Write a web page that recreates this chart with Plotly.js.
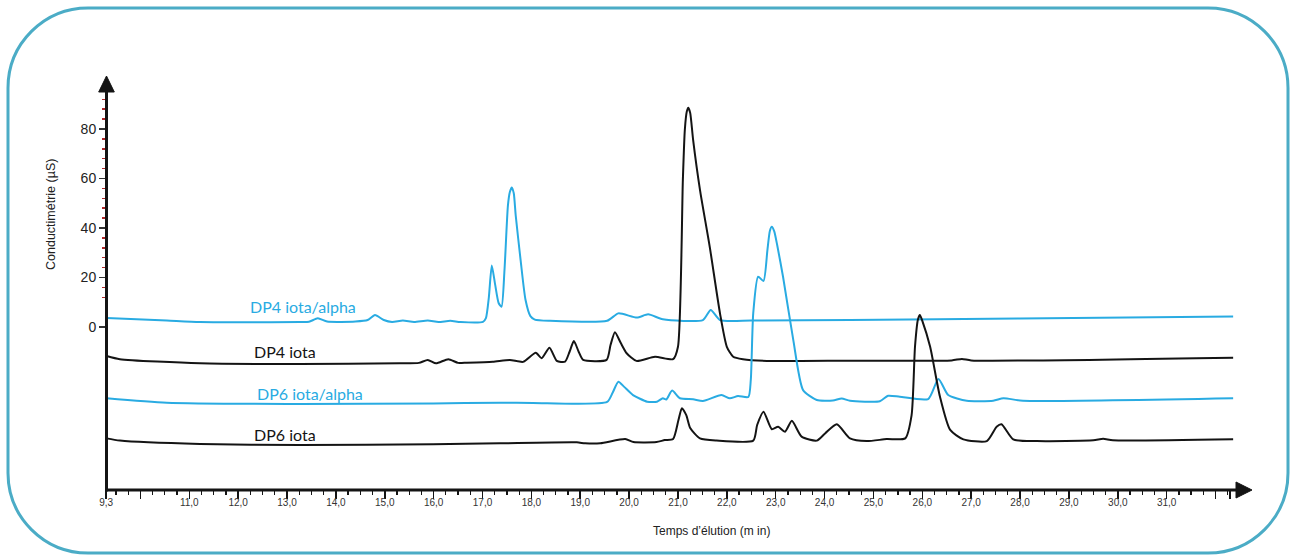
<!DOCTYPE html>
<html><head><meta charset="utf-8">
<script src="https://cdn.plot.ly/plotly-3.0.1.min.js"></script>
<style>html,body{margin:0;padding:0;background:#fff}#chart{width:1293px;height:556px}</style>
</head><body><div id="chart"></div>
<script>
// ---- Data (elution time in min, conductivity in µS, traces stacked as drawn) ----
const dp4iaT = [9.31,10.54,11.22,13.27,13.45,13.63,13.82,14.4,14.65,14.80,14.98,15.15,15.37,15.6,15.88,16.1,16.34,16.55,17.01,17.07,17.13,17.19,17.26,17.33,17.39,17.45,17.52,17.56,17.60,17.64,17.68,17.78,17.88,17.98,18.07,18.38,19.55,19.78,20.16,20.39,20.69,21.51,21.67,21.86,22.5,24.52,28.0,32.36];
const dp4iaV = [3.6,2.6,2.0,2.0,2.1,3.5,2.2,2.2,2.8,4.85,2.8,2.0,2.6,2.0,2.6,2.0,2.5,2.0,2.1,3.6,12,24.8,17,9.7,8.2,23,49,54.5,56.4,54,45,27,11,4.4,3.0,2.5,2.5,5.5,3.8,5.1,3.1,2.8,6.9,2.8,2.6,2.8,3.4,4.2];

const dp4iT = [9.31,9.58,11.22,13.27,15.31,15.70,15.88,16.05,16.30,16.5,16.68,17.21,17.56,17.83,18.09,18.21,18.37,18.52,18.69,18.78,18.87,18.97,19.06,19.54,19.62,19.71,19.83,19.95,20.15,20.53,20.90,21.00,21.10,21.14,21.18,21.21,21.25,21.31,21.45,21.65,21.86,22.0,22.13,22.33,22.82,24.52,26.6,26.81,27.0,32.36];
const dp4iV = [-11.7,-13.0,-14.7,-15.0,-14.7,-14.5,-13.3,-14.7,-13.0,-14.5,-14.4,-14.0,-13.3,-14.1,-10.4,-12.6,-8.4,-13.7,-14.0,-10.1,-5.7,-10.1,-13.3,-13.3,-7.3,-2.1,-6.5,-10.6,-13.7,-12.0,-13.0,-8.0,59.4,79.6,87.0,88.6,86.5,75.6,55.4,32.4,5.5,-8.0,-12.0,-13.0,-13.7,-13.6,-13.5,-12.9,-13.5,-12.4];

const dp6iaT = [9.31,10.54,13.27,15.99,17.36,18.03,19.55,19.66,19.78,19.9,20.08,20.37,20.57,20.69,20.76,20.88,21.04,21.31,21.51,21.89,22.06,22.23,22.44,22.49,22.54,22.64,22.75,22.83,22.88,22.92,22.97,23.03,23.15,23.36,23.56,23.84,24.17,24.35,24.52,25.13,25.30,25.54,26.12,26.33,26.53,26.91,27.45,27.66,28.06,32.36];
const dp6iaV = [-28.8,-30.6,-31.1,-30.9,-30.6,-30.7,-30.3,-26.7,-22.1,-24.2,-27.5,-30.2,-30.2,-28.8,-29.3,-25.7,-28.8,-29.2,-29.9,-27.5,-28.8,-27.9,-28.3,-21.4,5.5,20.3,18.6,31.1,38.8,40.5,38.6,33.1,20.3,-5.3,-25.5,-29.5,-29.7,-28.9,-29.8,-30.0,-27.8,-28.2,-29.1,-21.0,-27.5,-29.8,-29.8,-28.8,-29.8,-28.8];

const dp6iT = [9.31,9.58,11.22,13.27,15.99,17.36,18.93,19.1,19.41,19.92,20.09,20.56,20.73,20.90,21.01,21.08,21.17,21.25,21.45,21.79,22.54,22.62,22.75,22.92,23.05,23.19,23.33,23.53,23.84,24.01,24.25,24.52,24.86,25.27,25.65,25.78,25.85,25.91,25.95,26.00,26.16,26.36,26.57,26.84,27.32,27.52,27.62,27.86,28.34,29.5,29.70,29.9,32.36];
const dp6iV = [-45.0,-45.9,-47.3,-47.7,-47.4,-47.0,-46.6,-47.0,-47.0,-45.3,-46.5,-46.5,-45.7,-45.3,-37.6,-32.8,-35.6,-40.8,-45.0,-45.9,-45.9,-39.6,-34.2,-41.3,-40.3,-42.3,-37.9,-44.3,-45.9,-43.0,-39.3,-45.0,-46.1,-45.3,-45.0,-35.7,-8.0,3.0,4.85,2.5,-8.0,-28.1,-41.6,-45.4,-46.1,-40.3,-39.3,-45.4,-46.1,-45.8,-45.2,-45.8,-45.4];

const seriesNames = ["DP4 iota/alpha","DP4 iota","DP6 iota/alpha","DP6 iota"];
const labelT = [13.33, 12.96, 13.47, 12.96];
const labelV = [8.1, -10.1, -26.7, -43.6];

const xTickVals = [9.3,10,11,12,13,14,15,16,17,18,19,20,21,22,23,24,25,26,27,28,29,30,31,32,32.3];
const xTickText = ["9,3","","11,0","12,0","13,0","14,0","15,0","16,0","17,0","18,0","19,0","20,0","21,0","22,0","23,0","24,0","25,0","26,0","27,0","28,0","29,0","30,0","31,0","",""];
const yTickVals = [0,20,40,60,80];
const yTickText = ["0","20","40","60","80"];

// ---- Styling / geometry ----
const BLUE = "#29abe2", BLACK = "#141414", FRAME = "#4bacc6";
const W = 1293, H = 556, L = 106, R = 41, T = 76, B = 66;
const pw = W - L - R, ph = H - T - B;
const px = x => (x - L) / pw;
const py = y => (H - B - y) / ph;

const xMinor = [];
for (let v = 9.5; v <= 32.26; v += 0.25) { if (Math.abs(v - Math.round(v)) > 0.01) xMinor.push(+v.toFixed(2)); }
const yMinor = [];
for (let v = 12; v <= 96; v += 4) { if (v % 20 !== 0) yMinor.push(v); }

const colors = [BLUE, BLACK, BLUE, BLACK];
const Ts = [dp4iaT, dp4iT, dp6iaT, dp6iT];
const Vs = [dp4iaV, dp4iV, dp6iaV, dp6iV];
const traces = Ts.map((t, i) => ({
  x: t, y: Vs[i], type: "scatter", mode: "lines", name: seriesNames[i],
  line: {color: colors[i], width: 2, shape: "spline", smoothing: 0.6},
  hoverinfo: "skip"
}));

function roundRect(x0, y0, x1, y1, r) {
  const k = 0.5523 * r;
  const P = (x, y) => px(x) + "," + py(y);
  return "M" + P(x0 + r, y0) + " L" + P(x1 - r, y0) +
    " C" + P(x1 - r + k, y0) + " " + P(x1, y0 + r - k) + " " + P(x1, y0 + r) +
    " L" + P(x1, y1 - r) +
    " C" + P(x1, y1 - r + k) + " " + P(x1 - r + k, y1) + " " + P(x1 - r, y1) +
    " L" + P(x0 + r, y1) +
    " C" + P(x0 + r - k, y1) + " " + P(x0, y1 - r + k) + " " + P(x0, y1 - r) +
    " L" + P(x0, y0 + r) +
    " C" + P(x0, y0 + r - k) + " " + P(x0 + r - k, y0) + " " + P(x0 + r, y0) + " Z";
}

const shapes = [
  {type: "path", xref: "paper", yref: "paper", path: roundRect(8, 8, 1288, 553, 80), line: {color: FRAME, width: 3}},
  {type: "line", xref: "paper", yref: "paper", x0: px(105), x1: px(1240), y0: py(490), y1: py(490), line: {color: BLACK, width: 3}},
  {type: "path", xref: "paper", yref: "paper", path: "M" + px(1236) + "," + py(482) + " L" + px(1252) + "," + py(490) + " L" + px(1236) + "," + py(498) + " Z", fillcolor: BLACK, line: {color: BLACK, width: 1}},
  {type: "line", xref: "paper", yref: "paper", x0: px(106.5), x1: px(106.5), y0: py(491.5), y1: py(88), line: {color: BLACK, width: 3}},
  {type: "path", xref: "paper", yref: "paper", path: "M" + px(98.7) + "," + py(92) + " L" + px(106.5) + "," + py(76) + " L" + px(114.3) + "," + py(92) + " Z", fillcolor: BLACK, line: {color: BLACK, width: 1}}
];

const annotations = seriesNames.map((n, i) => ({
  x: labelT[i], y: labelV[i], xref: "x", yref: "y", text: n, showarrow: false,
  xanchor: "center", yanchor: "middle",
  font: {family: "Lato, 'Open Sans', sans-serif", size: 16, color: colors[i]}
}));
annotations.push({
  xref: "paper", yref: "paper", x: px(711), y: py(531), xanchor: "center", yanchor: "middle",
  text: "Temps d\u2019élution (m in)", showarrow: false,
  font: {family: "'Liberation Sans', Arial, sans-serif", size: 12, color: "#222"}
});
annotations.push({
  xref: "paper", yref: "paper", x: px(51), y: py(215), xanchor: "center", yanchor: "middle",
  text: "Conductimétrie (µS)", showarrow: false, textangle: -90,
  font: {family: "'Liberation Sans', Arial, sans-serif", size: 12.5, color: "#222"}
});

const layout = {
  width: W, height: H, autosize: false,
  margin: {l: L, r: R, t: T, b: B, pad: 0},
  paper_bgcolor: "#fff", plot_bgcolor: "rgba(0,0,0,0)",
  showlegend: false,
  xaxis: {
    range: [9.296, 32.746], showgrid: false, zeroline: false, showline: false,
    tickmode: "array", tickvals: xTickVals, ticktext: xTickText,
    ticks: "outside", ticklen: 8, tickwidth: 1.5, tickcolor: BLACK,
    ticklabelstandoff: -5,
    tickfont: {family: "'Liberation Sans', Arial, sans-serif", size: 10, color: "#333"},
    minor: {tickmode: "array", tickvals: xMinor, ticks: "outside", ticklen: 4, tickwidth: 1.3, tickcolor: BLACK},
    fixedrange: true
  },
  yaxis: {
    range: [-65.86, 101.4], showgrid: false, zeroline: false, showline: false,
    tickmode: "array", tickvals: yTickVals, ticktext: yTickText,
    ticks: "outside", ticklen: 6, tickwidth: 1.3, tickcolor: "#333",
    tickfont: {family: "'Liberation Sans', Arial, sans-serif", size: 14, color: "#222"},
    minor: {tickmode: "array", tickvals: yMinor, ticks: "outside", ticklen: 3, tickwidth: 1.5, tickcolor: "#b0282a"},
    fixedrange: true
  },
  shapes: shapes,
  annotations: annotations
};

Plotly.newPlot("chart", traces, layout, {displayModeBar: false, staticPlot: true});
</script></body></html>
